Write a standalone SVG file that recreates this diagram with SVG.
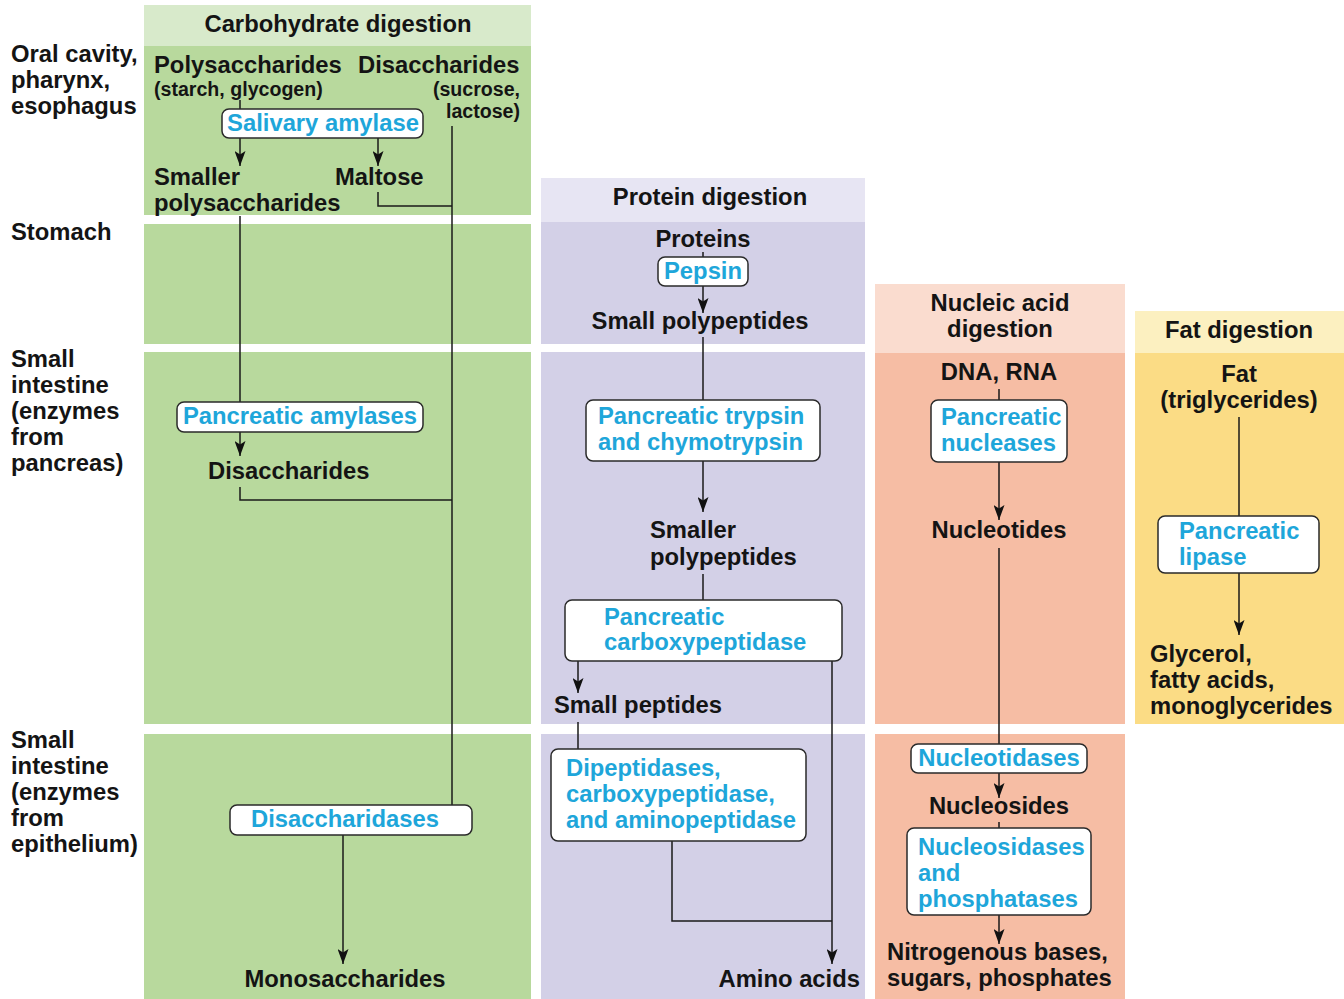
<svg xmlns="http://www.w3.org/2000/svg" width="1344" height="999" viewBox="0 0 1344 999">
<defs>
<marker id="ah" markerWidth="15" markerHeight="11" refX="15" refY="5.5" orient="auto" markerUnits="userSpaceOnUse" viewBox="0 0 15 11">
<path d="M0,0 L15,5.5 L0,11 L3.5,5.5 Z" fill="#111"/>
</marker>
<style>
text{font-family:"Liberation Sans",Arial,Helvetica,sans-serif;font-weight:bold;font-size:23.8px;fill:#141414}
.s{font-size:19.6px}
.e{fill:#1ea6da}
.c{text-anchor:middle}
.r{text-anchor:end}
.box{fill:#fff;stroke:#2a2a2a;stroke-width:1.5}
.ln{fill:none;stroke:#1a1a1a;stroke-width:1.5}
.ar{fill:none;stroke:#1a1a1a;stroke-width:1.5;marker-end:url(#ah)}
.cg{fill:#b8d99d}.ch{fill:#d8eacb}
.pg{fill:#d3d0e7}.ph{fill:#e7e5f3}
.ng{fill:#f6bda4}.nh{fill:#fadccf}
.fg{fill:#fbdc85}.fh{fill:#fcf0c0}
</style>
</defs>
<rect width="1344" height="999" fill="#fff"/>
<g id="backgrounds">
<rect class="ch" x="144" y="5" width="387" height="41"/>
<rect class="cg" x="144" y="46" width="387" height="169"/>
<rect class="cg" x="144" y="224" width="387" height="120"/>
<rect class="cg" x="144" y="352" width="387" height="372"/>
<rect class="cg" x="144" y="734" width="387" height="265"/>
<rect class="ph" x="541" y="178" width="324" height="44"/>
<rect class="pg" x="541" y="222" width="324" height="122"/>
<rect class="pg" x="541" y="352" width="324" height="372"/>
<rect class="pg" x="541" y="734" width="324" height="265"/>
<rect class="nh" x="875" y="284" width="250" height="69"/>
<rect class="ng" x="875" y="353" width="250" height="371"/>
<rect class="ng" x="875" y="734" width="250" height="265"/>
<rect class="fh" x="1135" y="311" width="209" height="42"/>
<rect class="fg" x="1135" y="353" width="209" height="371"/>
</g>
<g id="row-labels">
<text x="11" y="62">Oral cavity,</text>
<text x="11" y="88">pharynx,</text>
<text x="11" y="114">esophagus</text>
<text x="11" y="240">Stomach</text>
<text x="11" y="367">Small</text>
<text x="11" y="393">intestine</text>
<text x="11" y="419">(enzymes</text>
<text x="11" y="445">from</text>
<text x="11" y="471">pancreas)</text>
<text x="11" y="748">Small</text>
<text x="11" y="774">intestine</text>
<text x="11" y="800">(enzymes</text>
<text x="11" y="826">from</text>
<text x="11" y="852">epithelium)</text>
</g>
<g id="connectors">
<line class="ln" x1="240" y1="100" x2="240" y2="110"/>
<line class="ar" x1="240" y1="138" x2="240" y2="166"/>
<line class="ar" x1="378" y1="138" x2="378" y2="166"/>
<polyline class="ln" points="378,192 378,206 452,206"/>
<line class="ln" x1="452" y1="126" x2="452" y2="805"/>
<line class="ln" x1="240" y1="216" x2="240" y2="403"/>
<line class="ar" x1="240" y1="432" x2="240" y2="456"/>
<polyline class="ln" points="240,487 240,500 452,500"/>
<line class="ar" x1="343" y1="835" x2="343" y2="964"/>
<line class="ln" x1="703" y1="252" x2="703" y2="258"/>
<line class="ar" x1="703" y1="286" x2="703" y2="313"/>
<line class="ln" x1="703" y1="337" x2="703" y2="400"/>
<line class="ar" x1="703" y1="461" x2="703" y2="512"/>
<line class="ln" x1="703" y1="574" x2="703" y2="600"/>
<line class="ar" x1="578" y1="661" x2="578" y2="693"/>
<line class="ln" x1="578" y1="722" x2="578" y2="749"/>
<line class="ar" x1="832" y1="661" x2="832" y2="964"/>
<polyline class="ln" points="672,841 672,921 832,921"/>
<line class="ln" x1="999" y1="389" x2="999" y2="400"/>
<line class="ar" x1="999" y1="462" x2="999" y2="520"/>
<line class="ln" x1="999" y1="548" x2="999" y2="744"/>
<line class="ar" x1="999" y1="773" x2="999" y2="798"/>
<line class="ln" x1="999" y1="822" x2="999" y2="828"/>
<line class="ar" x1="999" y1="915" x2="999" y2="944"/>
<line class="ln" x1="1239" y1="417" x2="1239" y2="516"/>
<line class="ar" x1="1239" y1="573" x2="1239" y2="635"/>
</g>
<g id="carbohydrate">
<text class="c" x="338" y="32">Carbohydrate digestion</text>
<text x="154" y="73">Polysaccharides</text>
<text x="358" y="73">Disaccharides</text>
<text class="s" x="154" y="96">(starch, glycogen)</text>
<text class="s r" x="520" y="96">(sucrose,</text>
<text class="s r" x="520" y="118">lactose)</text>
<g id="salivary-amylase"><rect class="box" x="222" y="109" width="201" height="29" rx="7"/><text class="e c" x="323" y="131">Salivary amylase</text></g>
<text x="154" y="185">Smaller</text>
<text x="154" y="211">polysaccharides</text>
<text x="335" y="185">Maltose</text>
<g id="pancreatic-amylases"><rect class="box" x="177" y="402" width="246" height="30" rx="7"/><text class="e c" x="300" y="424">Pancreatic amylases</text></g>
<text x="208" y="479">Disaccharides</text>
<g id="disaccharidases"><rect class="box" x="230" y="805" width="242" height="30" rx="7"/><text class="e c" x="345" y="827">Disaccharidases</text></g>
<text class="c" x="345" y="987">Monosaccharides</text>
</g>
<g id="protein">
<text class="c" x="710" y="205">Protein digestion</text>
<text class="c" x="703" y="247">Proteins</text>
<g id="pepsin"><rect class="box" x="658" y="257" width="90" height="29" rx="7"/><text class="e c" x="703" y="279">Pepsin</text></g>
<text class="c" x="700" y="329">Small polypeptides</text>
<g id="trypsin"><rect class="box" x="586" y="400" width="234" height="61" rx="7"/><text class="e" x="598" y="424">Pancreatic trypsin</text><text class="e" x="598" y="450">and chymotrypsin</text></g>
<text x="650" y="538">Smaller</text>
<text x="650" y="565">polypeptides</text>
<g id="carboxypeptidase"><rect class="box" x="565" y="600" width="277" height="61" rx="7"/><text class="e" x="604" y="625">Pancreatic</text><text class="e" x="604" y="650">carboxypeptidase</text></g>
<text x="554" y="713">Small peptides</text>
<g id="dipeptidases"><rect class="box" x="551" y="749" width="255" height="92" rx="7"/><text class="e" x="566" y="776">Dipeptidases,</text><text class="e" x="566" y="802">carboxypeptidase,</text><text class="e" x="566" y="828">and aminopeptidase</text></g>
<text class="r" x="860" y="987">Amino acids</text>
</g>
<g id="nucleic">
<text class="c" x="1000" y="311">Nucleic acid</text>
<text class="c" x="1000" y="337">digestion</text>
<text class="c" x="999" y="380">DNA, RNA</text>
<g id="nucleases"><rect class="box" x="931" y="400" width="136" height="62" rx="7"/><text class="e" x="941" y="425">Pancreatic</text><text class="e" x="941" y="451">nucleases</text></g>
<text class="c" x="999" y="538">Nucleotides</text>
<g id="nucleotidases"><rect class="box" x="911" y="744" width="176" height="29" rx="7"/><text class="e c" x="999" y="766">Nucleotidases</text></g>
<text class="c" x="999" y="814">Nucleosides</text>
<g id="nucleosidases"><rect class="box" x="907" y="828" width="184" height="87" rx="7"/><text class="e" x="918" y="855">Nucleosidases</text><text class="e" x="918" y="881">and</text><text class="e" x="918" y="907">phosphatases</text></g>
<text x="887" y="960">Nitrogenous bases,</text>
<text x="887" y="986">sugars, phosphates</text>
</g>
<g id="fat">
<text class="c" x="1239" y="338">Fat digestion</text>
<text class="c" x="1239" y="382">Fat</text>
<text class="c" x="1239" y="408">(triglycerides)</text>
<g id="lipase"><rect class="box" x="1158" y="516" width="161" height="57" rx="7"/><text class="e" x="1179" y="539">Pancreatic</text><text class="e" x="1179" y="565">lipase</text></g>
<text x="1150" y="662">Glycerol,</text>
<text x="1150" y="688">fatty acids,</text>
<text x="1150" y="714">monoglycerides</text>
</g>
</svg>
